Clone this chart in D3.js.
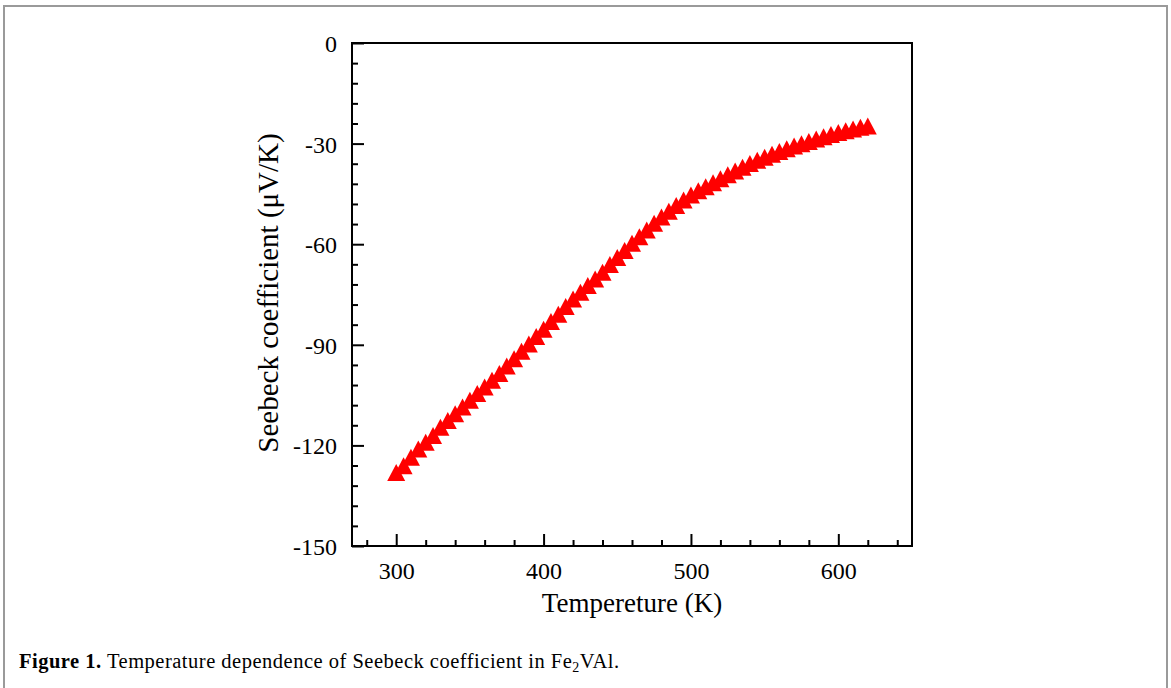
<!DOCTYPE html>
<html>
<head>
<meta charset="utf-8">
<script src="https://cdn.jsdelivr.net/npm/d3@7"></script>
<style>
  body { margin: 0; background: #fff; }
  svg text { font-family: "Liberation Serif", "Times New Roman", serif; fill: #000; }
</style>
</head>
<body>
<div id="chart"></div>
<script>
// measured Seebeck coefficient of Fe2VAl
var temps = [300, 305, 310, 315, 320, 325, 330, 335, 340, 345, 350, 355, 360, 365, 370, 375,
             380, 385, 390, 395, 400, 405, 410, 415, 420, 425, 430, 435, 440, 445, 450, 455,
             460, 465, 470, 475, 480, 485, 490, 495, 500, 505, 510, 515, 520, 525, 530, 535,
             540, 545, 550, 555, 560, 565, 570, 575, 580, 585, 590, 595, 600, 605, 610, 615, 620];
var seebeck = [-128.5, -126.5, -124, -121.5, -119.5, -117.5, -115, -113, -111, -109, -107, -105,
               -103, -101, -99, -96.8, -94.6, -92.4, -90.2, -88, -85.8, -83.5, -81.3, -79,
               -76.8, -74.8, -72.8, -70.8, -68.8, -66.5, -64.4, -62.3, -60.2, -58.2, -56.2, -54.2,
               -52.3, -50.6, -48.9, -47.3, -45.8, -44.5, -43.3, -42.1, -40.9, -39.7, -38.6, -37.5,
               -36.4, -35.4, -34.5, -33.6, -32.8, -32, -31.2, -30.5, -29.8, -29.1, -28.4, -27.7,
               -27.1, -26.6, -26.1, -25.6, -25.2];
var xTicks = [300, 400, 500, 600];
var yTicks = [0, -30, -60, -90, -120, -150];

var W = 1171, H = 688;
var plot = {left: 352, right: 912, top: 43, bottom: 546};

var svg = d3.select("#chart").append("svg")
    .attr("width", W)
    .attr("height", H);

// outer figure frame
svg.append("rect")
    .attr("x", 4).attr("y", 6)
    .attr("width", W - 8).attr("height", H - 4)
    .attr("fill", "none")
    .attr("stroke", "#9a9a9a")
    .attr("stroke-width", 2);

var x = d3.scaleLinear().domain([270, 650]).range([plot.left, plot.right]);
var y = d3.scaleLinear().domain([-150, 0]).range([plot.bottom, plot.top]);

var fmt = function(d) { return String(d); };  // plain hyphen minus like the original

// ticks inward: major + minor
var xMinor = d3.range(280, 650, 20).filter(function(d) { return d % 100 !== 0; });
var yMinor = d3.range(-144, 0, 6).filter(function(d) { return d % 30 !== 0; });

var xAxis = svg.append("g")
    .attr("transform", "translate(0," + plot.bottom + ")")
    .call(d3.axisBottom(x).tickValues(xTicks).tickSize(-12).tickPadding(16).tickFormat(fmt));
svg.append("g")
    .attr("transform", "translate(0," + plot.bottom + ")")
    .call(d3.axisBottom(x).tickValues(xMinor).tickSize(-6).tickFormat(""));

var yAxis = svg.append("g")
    .attr("transform", "translate(" + plot.left + ",0)")
    .call(d3.axisLeft(y).tickValues(yTicks).tickSize(-12).tickPadding(15).tickFormat(fmt));
svg.append("g")
    .attr("transform", "translate(" + plot.left + ",0)")
    .call(d3.axisLeft(y).tickValues(yMinor).tickSize(-6).tickFormat(""));

svg.selectAll(".tick line").attr("stroke", "#000").attr("stroke-width", 2);
svg.selectAll(".domain").remove();
svg.selectAll(".tick text").style("font-size", "24px");
yAxis.selectAll(".tick text").attr("dy", "0.35em");

// frame around plot
svg.append("rect")
    .attr("x", plot.left).attr("y", plot.top)
    .attr("width", plot.right - plot.left)
    .attr("height", plot.bottom - plot.top)
    .attr("fill", "none")
    .attr("stroke", "#000")
    .attr("stroke-width", 2);

// triangles
var tri = "M0,-10L9,7L-9,7Z";
svg.append("g").selectAll("path")
    .data(temps)
    .enter().append("path")
    .attr("d", tri)
    .attr("fill", "#ff0000")
    .attr("transform", function(d, i) {
        return "translate(" + x(d) + "," + y(seebeck[i]) + ")";
    });

// axis titles
svg.append("text")
    .attr("x", (plot.left + plot.right) / 2)
    .attr("y", 612)
    .attr("text-anchor", "middle")
    .style("font-size", "27px")
    .text("Tempereture (K)");

svg.append("text")
    .attr("transform", "translate(278,293) rotate(-90)")
    .attr("text-anchor", "middle")
    .style("font-size", "29px")
    .text("Seebeck coefficient (\u03bcV/K)");

// caption
var cap = svg.append("text")
    .attr("x", 19)
    .attr("y", 668)
    .style("font-size", "20.5px")
    .style("letter-spacing", "0.5px");
cap.append("tspan").style("font-weight", "bold").text("Figure 1.");
cap.append("tspan").text(" Temperature dependence of Seebeck coefficient in Fe");
cap.append("tspan").attr("dy", 4).style("font-size", "14px").text("2");
cap.append("tspan").attr("dy", -4).text("VAl.");
</script>
</body>
</html>
